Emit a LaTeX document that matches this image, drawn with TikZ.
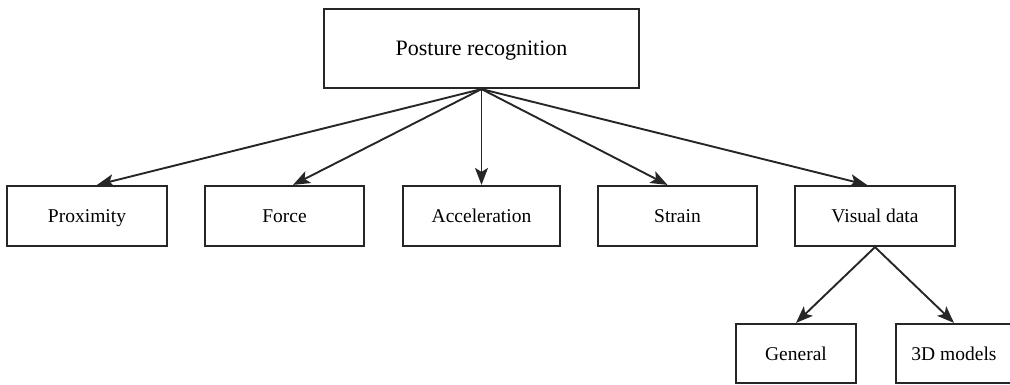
\documentclass[tikz,border=0pt]{standalone}
\usepackage{fontspec}
\setmainfont{Liberation Serif}
\usetikzlibrary{arrows.meta}
\begin{document}
\begin{tikzpicture}[x=1pt,y=-1pt,
  ink/.style={draw=black!85},
  boxnode/.style={ink,line width=2.2pt,minimum height=60pt,inner sep=0pt,
    text height=13pt,text depth=0pt,
    font=\fontsize{19.5}{22}\selectfont},
  topbox/.style={boxnode,minimum width=315pt,minimum height=79pt,
    text height=14.5pt,font=\fontsize{22}{26}\selectfont},
  link/.style={ink,line width=1.9pt,
    -{Stealth[length=17pt,width=13pt,inset=4pt]}}]
\useasboundingbox (0,0) rectangle (1010,385);
% root
\node[topbox] (root) at (481.5,48.5) {Posture recognition};
% sensing modalities
\node[boxnode,minimum width=160pt] (prox)  at (87,216)    {Proximity};
\node[boxnode,minimum width=159pt] (force) at (284.5,216) {Force};
\node[boxnode,minimum width=157pt] (accel) at (481.5,216) {Acceleration};
\node[boxnode,minimum width=159pt] (strain) at (677.5,216) {Strain};
\node[boxnode,minimum width=160pt] (visual) at (875,216)  {Visual data};
% visual sub-categories
\node[boxnode,minimum width=120pt,minimum height=59pt] (general) at (796,353.5) {General};
\node[boxnode,minimum width=116pt,minimum height=59pt] (models)  at (954,353.5) {3D models};
% connectors
\draw[link] (root.south) -- ([xshift=10pt]prox.north);
\draw[link] (root.south) -- ([xshift=8.5pt]force.north);
\draw[link] (root.south) -- (accel.north);
\draw[link] (root.south) -- ([xshift=-10pt]strain.north);
\draw[link] (root.south) -- ([xshift=-8pt]visual.north);
\draw[link] (visual.south) -- (general.north);
\draw[link] (visual.south) -- (models.north);
\end{tikzpicture}
\end{document}
